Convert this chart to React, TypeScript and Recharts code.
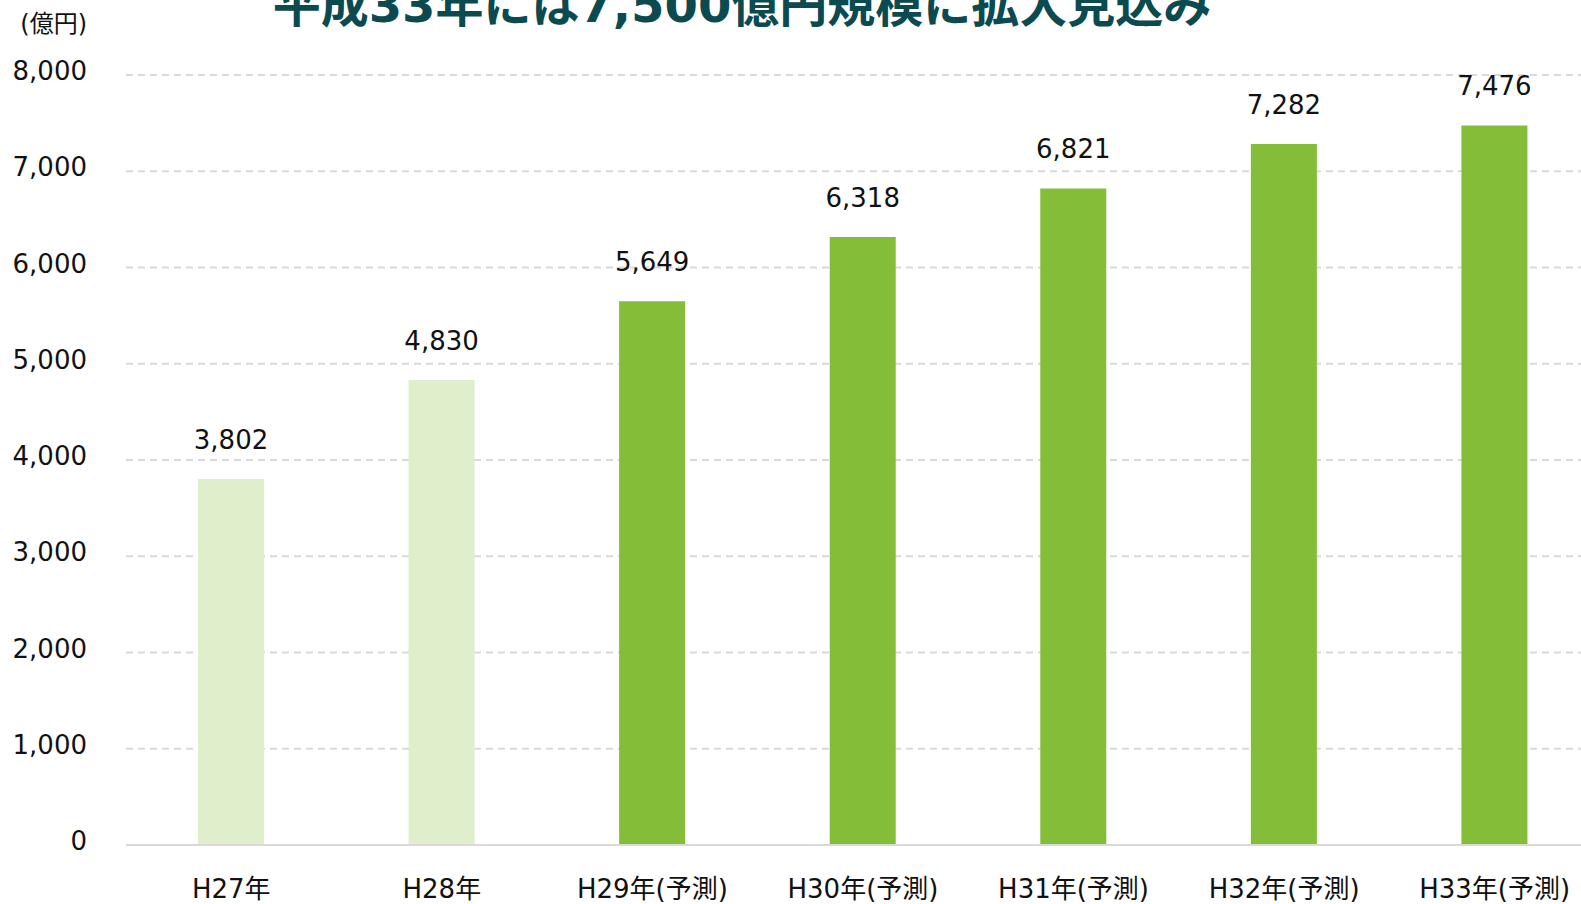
import { BarChart, Bar, XAxis, YAxis, CartesianGrid, Cell, LabelList } from 'recharts'

const years = ['H27年', 'H28年', 'H29年(予測)', 'H30年(予測)', 'H31年(予測)', 'H32年(予測)', 'H33年(予測)']
const marketSize = [3802, 4830, 5649, 6318, 6821, 7282, 7476]
const isForecast = [false, false, true, true, true, true, true]
const yTicks = [0, 1000, 2000, 3000, 4000, 5000, 6000, 7000, 8000]

const TITLE = '平成33年には7,500億円規模に拡大見込み'
const UNIT = '(億円)'

const FONT = '"DejaVu Sans", "Noto Sans CJK JP", sans-serif'
const LIGHT = '#e0efcb'
const DARK = '#84bd37'
const GRID = '#d9d9d9'

const fmt = (v: number) => v.toLocaleString('en-US')

export default function App() {
  const data = years.map((name, i) => ({ name, value: marketSize[i], forecast: isForecast[i] }))

  return (
    <div style={{ position: 'absolute', left: 0, top: 0, width: 1581, height: 904, overflow: 'hidden', fontFamily: FONT }}>
      <BarChart
        width={1610}
        height={904}
        data={data}
        margin={{ top: 75, right: 10, bottom: 0, left: 0 }}
      >
        <CartesianGrid vertical={false} stroke={GRID} strokeWidth={2} strokeDasharray="7 5" />
        <XAxis
          dataKey="name"
          height={59}
          tickLine={false}
          tickSize={0}
          tickMargin={35}
          axisLine={{ stroke: GRID, strokeWidth: 2 }}
          tick={{ fontSize: 26, fill: '#111', fontFamily: FONT }}
          interval={0}
        />
        <YAxis
          width={126}
          domain={[0, 8000]}
          ticks={yTicks}
          tickFormatter={fmt}
          axisLine={false}
          tickLine={false}
          tickSize={0}
          tickMargin={39}
          tick={{ fontSize: 26, fill: '#111', fontFamily: FONT, dy: -4 }}
        />
        <Bar dataKey="value" barSize={66} isAnimationActive={false}>
          {data.map((d, i) => (
            <Cell key={i} fill={d.forecast ? DARK : LIGHT} />
          ))}
          <LabelList
            dataKey="value"
            position="top"
            offset={30}
            formatter={(v: number) => fmt(v)}
            style={{ fontSize: 26, fill: '#111', fontFamily: FONT }}
          />
        </Bar>
      </BarChart>
      <svg width={1581} height={60} style={{ position: 'absolute', left: 0, top: 0 }}>
        <text x={87} y={32} textAnchor="end" fontSize={24} fill="#111" fontFamily={FONT}>
          {UNIT}
        </text>
        <text x={742} y={22} textAnchor="middle" fontSize={48} fontWeight="bold" fill="#0b4a4f" fontFamily={FONT}>
          {TITLE}
        </text>
      </svg>
    </div>
  )
}
